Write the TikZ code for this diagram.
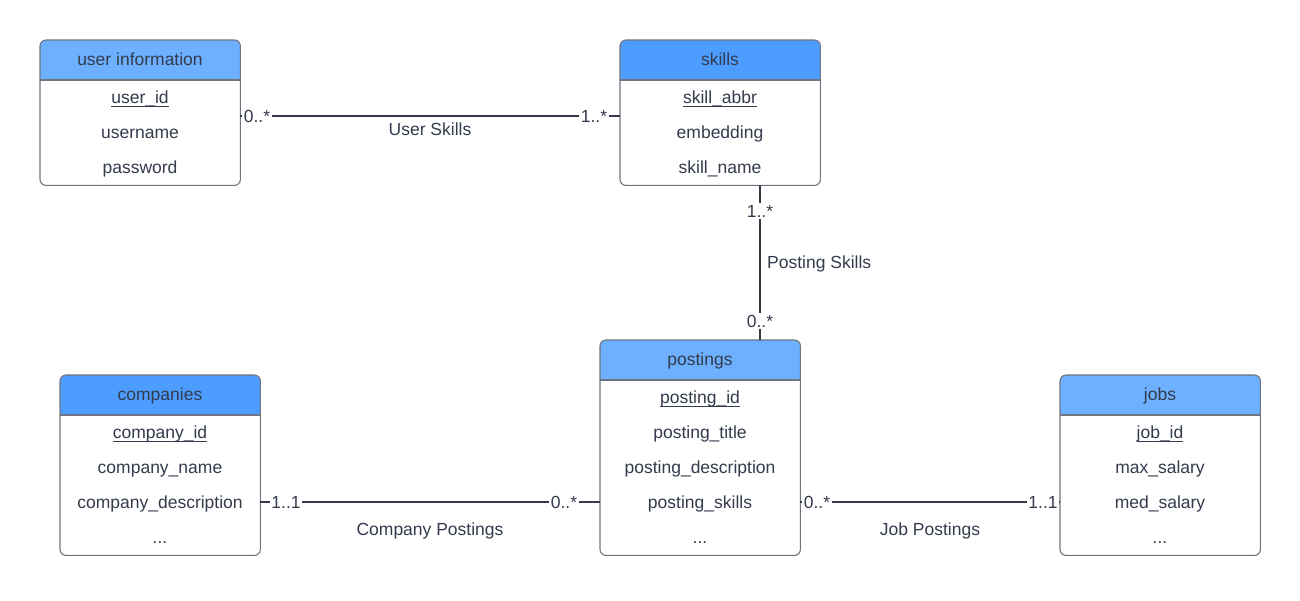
\documentclass[tikz,border=0pt]{standalone}
\usepackage{fontspec}
\setmainfont{Liberation Sans}
\definecolor{txt}{RGB}{51,59,76}
\definecolor{linec}{RGB}{52,58,72}
\definecolor{framec}{RGB}{110,116,128}
\definecolor{hdrlight}{RGB}{108,176,255}
\definecolor{hdrdark}{RGB}{76,157,255}
\newcommand{\keyul}[1]{\setbox0\hbox{#1}\rlap{\rule[-3.9pt]{\wd0}{1.2pt}}\box0}
\tikzset{
  erframe/.style={rectangle, minimum width=200pt, inner sep=0pt, fill=white},
  erborder/.style={draw=framec, line width=1.1pt, rounded corners=6pt},
  hdrline/.style={draw=framec, line width=1.1pt},
  lbl/.style={text=txt, font=\fontsize{17.5}{20}\selectfont, inner sep=0pt},
  row/.style={lbl, anchor=base},
  conn/.style={draw=linec, line width=2pt},
  card/.style={lbl, fill=white, inner xsep=1.5pt, inner ysep=2pt},
}
\newcommand{\erbox}[5]{%
  \node[erframe, minimum height=#4pt, anchor=north west] (#1) at (#2,#3) {};
  \fill[#5] (#2,#3+40) [rounded corners=6pt] -- (#2,#3) -- (#2+200,#3) [sharp corners] -- (#2+200,#3+40) -- cycle;
  \draw[erborder] (#1.south west) rectangle (#1.north east);
  \draw[hdrline] (#2,#3+40) -- (#2+200,#3+40);
}
\begin{document}
\begin{tikzpicture}[x=1pt,y=-1pt]
\useasboundingbox (0,0) rectangle (1300,600);

% user information
\erbox{user}{40}{40}{145}{hdrlight}
\node[row] (user-t) at (140,65.5) {user information};
\node[row] (user-1) at (140,103) {\keyul{user\_id}};
\node[row] (user-2) at (140,138) {username};
\node[row] (user-3) at (140,173) {password};

% skills
\erbox{skills}{620}{40}{145}{hdrdark}
\node[row] (skills-t) at (720,65.5) {skills};
\node[row] (skills-1) at (720,103) {\keyul{skill\_abbr}};
\node[row] (skills-2) at (720,138) {embedding};
\node[row] (skills-3) at (720,173) {skill\_name};

% companies
\erbox{comp}{60}{375}{180}{hdrdark}
\node[row] (comp-t) at (160,400.5) {companies};
\node[row] (comp-1) at (160,438) {\keyul{company\_id}};
\node[row] (comp-2) at (160,473) {company\_name};
\node[row] (comp-3) at (160,508) {company\_description};
\node[row] (comp-4) at (160,543) {...};

% postings
\erbox{post}{600}{340}{215}{hdrlight}
\node[row] (post-t) at (700,365.5) {postings};
\node[row] (post-1) at (700,403) {\keyul{posting\_id}};
\node[row] (post-2) at (700,438) {posting\_title};
\node[row] (post-3) at (700,473) {posting\_description};
\node[row] (post-4) at (700,508) {posting\_skills};
\node[row] (post-5) at (700,543) {...};

% jobs
\erbox{jobs}{1060}{375}{180}{hdrlight}
\node[row] (jobs-t) at (1160,400.5) {jobs};
\node[row] (jobs-1) at (1160,438) {\keyul{job\_id}};
\node[row] (jobs-2) at (1160,473) {max\_salary};
\node[row] (jobs-3) at (1160,508) {med\_salary};
\node[row] (jobs-4) at (1160,543) {...};

% User Skills
\coordinate (us-a) at ([yshift=-76pt]user.north east);
\coordinate (us-b) at ([yshift=-76pt]skills.north west);
\draw[conn] (us-a) -- (us-b);
\node[card] (us-ca) at (257,116) {0..*};
\node[card] (us-cb) at (594,116) {1..*};
\node[row] (us-l) at (430,135) {User Skills};

% Posting Skills
\coordinate (ps-a) at ([xshift=40pt]skills.south);
\coordinate (ps-b) at ([xshift=60pt]post.north);
\draw[conn] (ps-a) -- (ps-b);
\node[card] (ps-ca) at (760,211) {1..*};
\node[card] (ps-cb) at (760,321) {0..*};
\node[row, anchor=base west] (ps-l) at (767,268) {Posting Skills};

% Company Postings
\coordinate (cp-a) at ([yshift=-127pt]comp.north east);
\coordinate (cp-b) at ([yshift=-162pt]post.north west);
\draw[conn] (cp-a) -- (cp-b);
\node[card] (cp-ca) at (286,502) {1..1};
\node[card] (cp-cb) at (564,502) {0..*};
\node[row] (cp-l) at (430,535) {Company Postings};

% Job Postings
\coordinate (jp-a) at ([yshift=-162pt]post.north east);
\coordinate (jp-b) at ([yshift=-127pt]jobs.north west);
\draw[conn] (jp-a) -- (jp-b);
\node[card] (jp-ca) at (817,502) {0..*};
\node[card] (jp-cb) at (1043,502) {1..1};
\node[row] (jp-l) at (930,535) {Job Postings};
\end{tikzpicture}
\end{document}
